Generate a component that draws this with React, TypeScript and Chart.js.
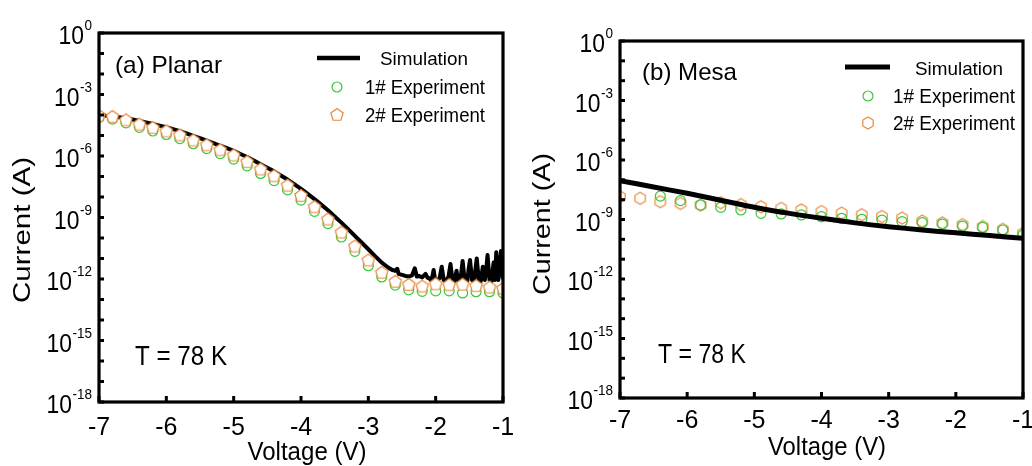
import React, { useEffect, useRef } from 'react';
import { Chart, registerables } from 'chart.js';

Chart.register(...registerables);

const FONT = '"Liberation Sans", Arial, Helvetica, sans-serif';
const GREEN = '#36c936';
const ORANGE = '#e6883a';

// ---- shared axis ticks ----
const yTickExponents = [0, -3, -6, -9, -12, -15, -18];
const yMinorExponents = [-1, -2, -4, -5, -7, -8, -10, -11, -13, -14, -16, -17];
const xTickValues = [-7, -6, -5, -4, -3, -2, -1];

// ---- panel (a) Planar ----
const planarMarkerV = [-7.0, -6.8, -6.6, -6.4, -6.2, -6.0, -5.8, -5.6, -5.4, -5.2, -5.0, -4.8, -4.6, -4.4, -4.2, -4.0,
  -3.8, -3.6, -3.4, -3.2, -3.0, -2.8, -2.6, -2.4, -2.2, -2.0, -1.8, -1.6, -1.4, -1.2, -1.0];
// log10 of current (A)
const planarExp1LogI = [-4.12, -4.2, -4.38, -4.6, -4.78, -4.95, -5.15, -5.4, -5.64, -5.88, -6.15, -6.48, -6.85, -7.2,
  -7.65, -8.15, -8.7, -9.3, -9.95, -10.65, -11.35, -11.9, -12.3, -12.53, -12.6, -12.58, -12.58, -12.68, -12.62, -12.62, -12.68];
const planarExp2LogI = [-4.04, -4.1, -4.26, -4.47, -4.64, -4.8, -5.0, -5.25, -5.48, -5.72, -5.98, -6.3, -6.66, -6.99,
  -7.45, -7.95, -8.5, -9.1, -9.74, -10.42, -11.1, -11.7, -12.14, -12.29, -12.37, -12.26, -12.3, -12.28, -12.35, -12.42, -12.48];
// [voltage, log10 current]
const planarSimulation: [number, number][] = [
  [-7.0, -3.98], [-6.9, -4.03], [-6.8, -4.07], [-6.7, -4.11], [-6.6, -4.16], [-6.5, -4.22], [-6.4, -4.29], [-6.3, -4.36],
  [-6.2, -4.44], [-6.1, -4.52], [-6.0, -4.6], [-5.9, -4.69], [-5.8, -4.79], [-5.7, -4.9], [-5.6, -5.02], [-5.5, -5.13],
  [-5.4, -5.25], [-5.3, -5.37], [-5.2, -5.5], [-5.1, -5.62], [-5.0, -5.75], [-4.9, -5.9], [-4.8, -6.05], [-4.7, -6.22],
  [-4.6, -6.4], [-4.5, -6.57], [-4.4, -6.75], [-4.3, -6.95], [-4.2, -7.15], [-4.1, -7.37], [-4.0, -7.6], [-3.9, -7.85],
  [-3.8, -8.1], [-3.7, -8.37], [-3.6, -8.65], [-3.5, -8.95], [-3.4, -9.25], [-3.3, -9.57], [-3.2, -9.9], [-3.1, -10.22],
  [-3.0, -10.55], [-2.9, -10.88], [-2.8, -11.2], [-2.7, -11.45], [-2.65, -11.55], [-2.6, -11.6], [-2.57, -11.5],
  [-2.55, -11.75], [-2.5, -11.8], [-2.45, -11.85], [-2.4, -11.88], [-2.35, -11.82], [-2.31, -11.48], [-2.28, -11.88],
  [-2.25, -11.85], [-2.2, -11.92], [-2.15, -11.75], [-2.12, -11.95], [-2.1, -11.95], [-2.07, -12.05], [-2.05, -11.9],
  [-2.03, -11.56], [-2.01, -12.0], [-1.98, -12.08], [-1.94, -11.95], [-1.91, -11.4], [-1.88, -12.05], [-1.85, -12.1],
  [-1.81, -11.9], [-1.78, -11.27], [-1.75, -12.05], [-1.72, -12.1], [-1.69, -11.6], [-1.67, -12.05], [-1.63, -12.0],
  [-1.6, -11.12], [-1.57, -12.05], [-1.53, -12.1], [-1.51, -11.5], [-1.49, -11.07], [-1.46, -12.05], [-1.43, -12.1],
  [-1.39, -11.0], [-1.36, -12.05], [-1.33, -12.1], [-1.3, -11.4], [-1.27, -12.05], [-1.25, -11.6], [-1.23, -10.83],
  [-1.2, -12.05], [-1.17, -12.1], [-1.14, -11.2], [-1.12, -12.05], [-1.1, -10.7], [-1.07, -12.05], [-1.05, -11.5],
  [-1.03, -10.63], [-1.0, -12.0],
];

// ---- panel (b) Mesa ----
const mesaMarkerV = [-7.0, -6.7, -6.4, -6.1, -5.8, -5.5, -5.2, -4.9, -4.6, -4.3, -4.0, -3.7, -3.4, -3.1, -2.8, -2.5,
  -2.2, -1.9, -1.6, -1.3, -1.0];
const mesaExp2LogI = [-7.85, -7.93, -8.1, -8.19, -8.27, -8.15, -8.25, -8.36, -8.44, -8.52, -8.6, -8.68, -8.76, -8.85,
  -8.93, -9.08, -9.17, -9.26, -9.36, -9.5, -9.7];
const mesaExp1V = [-6.4, -6.1, -5.8, -5.5, -5.2, -4.9, -4.6, -4.3, -4.0, -3.7, -3.4, -3.1, -2.8, -2.5, -2.2, -1.9,
  -1.6, -1.3, -1.0];
const mesaExp1LogI = [-7.82, -8.05, -8.27, -8.39, -8.52, -8.69, -8.72, -8.77, -8.86, -8.94, -8.99, -9.03, -9.11, -9.16,
  -9.23, -9.33, -9.4, -9.53, -9.78];
const mesaSimulation: [number, number][] = [
  [-7.0, -7.04], [-6.5, -7.36], [-6.0, -7.68], [-5.5, -8.03], [-5.0, -8.38], [-4.5, -8.68], [-4.0, -8.94],
  [-3.5, -9.17], [-3.0, -9.36], [-2.5, -9.53], [-2.0, -9.67], [-1.5, -9.81], [-1.0, -9.95],
];

const legendLabels = ['Simulation', '1# Experiment', '2# Experiment'];

const toPoints = (xs: number[], logs: number[]) => xs.map((x, i) => ({ x, y: Math.pow(10, logs[i]) }));
const pairsToPoints = (p: [number, number][]) => p.map(([x, l]) => ({ x, y: Math.pow(10, l) }));

function polygonMarker(sides: number, radius: number, stroke: string, fill: string | null, lw: number) {
  const size = 18;
  const c = document.createElement('canvas');
  c.width = size;
  c.height = size;
  const g = c.getContext('2d')!;
  g.beginPath();
  for (let i = 0; i < sides; i++) {
    const a = -Math.PI / 2 + (i * 2 * Math.PI) / sides;
    const px = size / 2 + radius * Math.cos(a);
    const py = size / 2 + radius * Math.sin(a);
    if (i === 0) g.moveTo(px, py);
    else g.lineTo(px, py);
  }
  g.closePath();
  if (fill) {
    g.fillStyle = fill;
    g.fill();
  }
  g.strokeStyle = stroke;
  g.lineWidth = lw;
  g.stroke();
  return c;
}

function drawText(
  ctx: CanvasRenderingContext2D, str: string, x: number, y: number, size: number,
  align: 'left' | 'center' | 'right' = 'left', width?: number, sx = 1,
) {
  ctx.save();
  ctx.font = `${size}px ${FONT}`;
  const nat = ctx.measureText(str).width;
  const s = width ? width / nat : sx;
  const w = nat * s;
  let left = x;
  if (align === 'center') left = x - w / 2;
  else if (align === 'right') left = x - w;
  ctx.translate(left, y);
  ctx.scale(s, 1);
  ctx.textAlign = 'left';
  ctx.textBaseline = 'alphabetic';
  ctx.fillStyle = '#000';
  ctx.fillText(str, 0, 0);
  ctx.restore();
}

type Deco = {
  xLabelBaseline: number;
  xTitle: { x: number; y: number; width: number };
  yTitle: { x: number; y: number; length: number };
  panel: { text: string; x: number; y: number; width: number };
  temp: { x: number; y: number; width: number };
  legend: {
    x1: number; x2: number; ly: number; lw: number;
    sim: { x: number; y: number; width: number };
    e1: { mx: number; my: number; tx: number; ty: number; width: number };
    e2: { mx: number; my: number; tx: number; ty: number; width: number };
  };
  marker2: HTMLCanvasElement;
  circleFill: string;
};

function decoPlugin(d: Deco) {
  return {
    id: 'deco',
    afterDraw(chart: any) {
      const ctx: CanvasRenderingContext2D = chart.ctx;
      const xs = chart.scales.x;
      const ys = chart.scales.y;
      const { left, right, top, bottom } = chart.chartArea;
      ctx.save();
      // ticks
      ctx.strokeStyle = '#000';
      ctx.lineWidth = 3;
      ctx.lineCap = 'butt';
      [...yTickExponents, ...yMinorExponents].forEach((e) => {
        const y = ys.getPixelForValue(Math.pow(10, e));
        ctx.beginPath();
        ctx.moveTo(left, y);
        ctx.lineTo(left + 5, y);
        ctx.stroke();
      });
      xTickValues.forEach((v) => {
        const x = xs.getPixelForValue(v);
        ctx.beginPath();
        ctx.moveTo(x, bottom);
        ctx.lineTo(x, bottom - 6);
        ctx.stroke();
      });
      // frame
      ctx.lineWidth = 3.2;
      ctx.strokeRect(left, top, right - left, bottom - top);
      // y tick labels
      yTickExponents.forEach((e) => {
        const y = ys.getPixelForValue(Math.pow(10, e));
        const r = left - 7;
        ctx.font = `15px ${FONT}`;
        const es = String(e);
        const w2 = ctx.measureText(es).width * 0.9;
        drawText(ctx, es, r - w2, y - 3, 15, 'left', undefined, 0.9);
        drawText(ctx, '10', r - w2 - 0.5, y + 11, 26, 'right', undefined, 0.88);
      });
      // x tick labels
      xTickValues.forEach((v) => {
        drawText(ctx, String(v), xs.getPixelForValue(v), d.xLabelBaseline, 25, 'center');
      });
      // axis titles
      drawText(ctx, 'Voltage (V)', d.xTitle.x, d.xTitle.y, 26, 'center', d.xTitle.width);
      ctx.save();
      ctx.font = `28px ${FONT}`;
      const yt = 'Current (A)';
      const nat = ctx.measureText(yt).width;
      ctx.translate(d.yTitle.x, d.yTitle.y);
      ctx.rotate(-Math.PI / 2);
      ctx.scale(d.yTitle.length / nat, 0.86);
      ctx.textAlign = 'center';
      ctx.textBaseline = 'alphabetic';
      ctx.fillStyle = '#000';
      ctx.fillText(yt, 0, 0);
      ctx.restore();
      // annotations
      drawText(ctx, d.panel.text, d.panel.x, d.panel.y, 24, 'left', d.panel.width);
      drawText(ctx, 'T = 78 K', d.temp.x, d.temp.y, 28, 'left', d.temp.width);
      // legend
      const L = d.legend;
      ctx.strokeStyle = '#000';
      ctx.lineWidth = L.lw;
      ctx.beginPath();
      ctx.moveTo(L.x1, L.ly);
      ctx.lineTo(L.x2, L.ly);
      ctx.stroke();
      drawText(ctx, legendLabels[0], L.sim.x, L.sim.y, 19, 'left', L.sim.width);
      ctx.beginPath();
      ctx.arc(L.e1.mx, L.e1.my, 5, 0, Math.PI * 2);
      ctx.fillStyle = d.circleFill;
      ctx.fill();
      ctx.strokeStyle = GREEN;
      ctx.lineWidth = 1.2;
      ctx.stroke();
      drawText(ctx, legendLabels[1], L.e1.tx, L.e1.ty, 19.5, 'left', L.e1.width);
      ctx.drawImage(d.marker2, L.e2.mx - 9, L.e2.my - 9);
      drawText(ctx, legendLabels[2], L.e2.tx, L.e2.ty, 19.5, 'left', L.e2.width);
      ctx.restore();
    },
  };
}

function makeConfig(box: { L: number; R: number; T: number; B: number }, datasets: any[], deco: Deco): any {
  const W = 516;
  const H = 466;
  return {
    type: 'line',
    data: { datasets },
    options: {
      animation: false,
      responsive: false,
      devicePixelRatio: 1,
      events: [],
      layout: { padding: { left: 0, right: W - box.R, top: box.T, bottom: 0 } },
      plugins: { legend: { display: false }, tooltip: { enabled: false } },
      scales: {
        x: {
          type: 'linear', min: -7, max: -1,
          ticks: { display: false }, grid: { display: false }, border: { display: false },
          afterFit: (s: any) => { s.height = H - box.B; },
        },
        y: {
          type: 'logarithmic', min: 1e-18, max: 1,
          ticks: { display: false }, grid: { display: false }, border: { display: false },
          afterFit: (s: any) => { s.width = box.L; },
        },
      },
    },
    plugins: [decoPlugin(deco)],
  };
}

function Panel({ build, left }: { build: () => any; left: number }) {
  const ref = useRef<HTMLCanvasElement>(null);
  useEffect(() => {
    const chart = new Chart(ref.current!, build());
    return () => chart.destroy();
  }, []);
  return (
    <canvas
      ref={ref}
      width={516}
      height={466}
      style={{ position: 'absolute', left, top: 0, width: 516, height: 466 }}
    />
  );
}

function buildPlanar() {
  const penta = polygonMarker(5, 6.5, ORANGE, '#ffffff', 1.2);
  const datasets = [
    {
      label: legendLabels[2], data: toPoints(planarMarkerV, planarExp2LogI), showLine: false,
      pointStyle: penta, pointRadius: 6, borderColor: ORANGE, backgroundColor: '#fff', clip: 0,
    },
    {
      label: legendLabels[1], data: toPoints(planarMarkerV, planarExp1LogI), showLine: false,
      pointStyle: 'circle', pointRadius: 5, pointBorderWidth: 1.2, borderColor: GREEN, pointBackgroundColor: '#fff',
      backgroundColor: '#fff', clip: 0,
    },
    {
      label: legendLabels[0], data: pairsToPoints(planarSimulation), borderColor: '#000', borderWidth: 4,
      pointRadius: 0, tension: 0, fill: false, clip: 0, borderJoinStyle: 'round',
    },
  ];
  return makeConfig({ L: 99, R: 503, T: 33, B: 402 }, datasets, {
    xLabelBaseline: 435,
    xTitle: { x: 307, y: 460, width: 119 },
    yTitle: { x: 30, y: 230, length: 146 },
    panel: { text: '(a) Planar', x: 115, y: 73, width: 107 },
    temp: { x: 135, y: 365, width: 92 },
    legend: {
      x1: 317, x2: 360, ly: 58, lw: 4.5,
      sim: { x: 380, y: 65, width: 88 },
      e1: { mx: 337, my: 87, tx: 365, ty: 94, width: 120 },
      e2: { mx: 337, my: 115, tx: 365, ty: 122, width: 120 },
    },
    marker2: penta,
    circleFill: '#fff',
  });
}

function buildMesa() {
  const hexa = polygonMarker(6, 6, ORANGE, null, 1.2);
  const datasets = [
    {
      label: legendLabels[0], data: pairsToPoints(mesaSimulation), borderColor: '#000', borderWidth: 5,
      pointRadius: 0, tension: 0.3, fill: false, clip: 0,
    },
    {
      label: legendLabels[1], data: toPoints(mesaExp1V, mesaExp1LogI), showLine: false,
      pointStyle: 'circle', pointRadius: 5, pointBorderWidth: 1.2, borderColor: GREEN,
      pointBackgroundColor: 'rgba(0,0,0,0)', backgroundColor: 'rgba(0,0,0,0)', clip: 0,
    },
    {
      label: legendLabels[2], data: toPoints(mesaMarkerV, mesaExp2LogI), showLine: false,
      pointStyle: hexa, pointRadius: 6, borderColor: ORANGE, clip: 0,
    },
  ];
  return makeConfig({ L: 104, R: 507, T: 41, B: 398 }, datasets, {
    xLabelBaseline: 428,
    xTitle: { x: 311, y: 455, width: 118 },
    yTitle: { x: 34, y: 224, length: 142 },
    panel: { text: '(b) Mesa', x: 126, y: 80, width: 95 },
    temp: { x: 142, y: 363, width: 88 },
    legend: {
      x1: 329, x2: 374, ly: 67, lw: 5,
      sim: { x: 399, y: 75, width: 88 },
      e1: { mx: 352, my: 96, tx: 377, ty: 103, width: 122 },
      e2: { mx: 352, my: 123, tx: 377, ty: 130, width: 122 },
    },
    marker2: hexa,
    circleFill: 'rgba(0,0,0,0)',
  });
}

export default function App() {
  return (
    <div style={{ position: 'absolute', left: 0, top: 0, width: 1032, height: 466, background: '#fff', overflow: 'hidden' }}>
      <Panel build={buildPlanar} left={0} />
      <Panel build={buildMesa} left={516} />
    </div>
  );
}
